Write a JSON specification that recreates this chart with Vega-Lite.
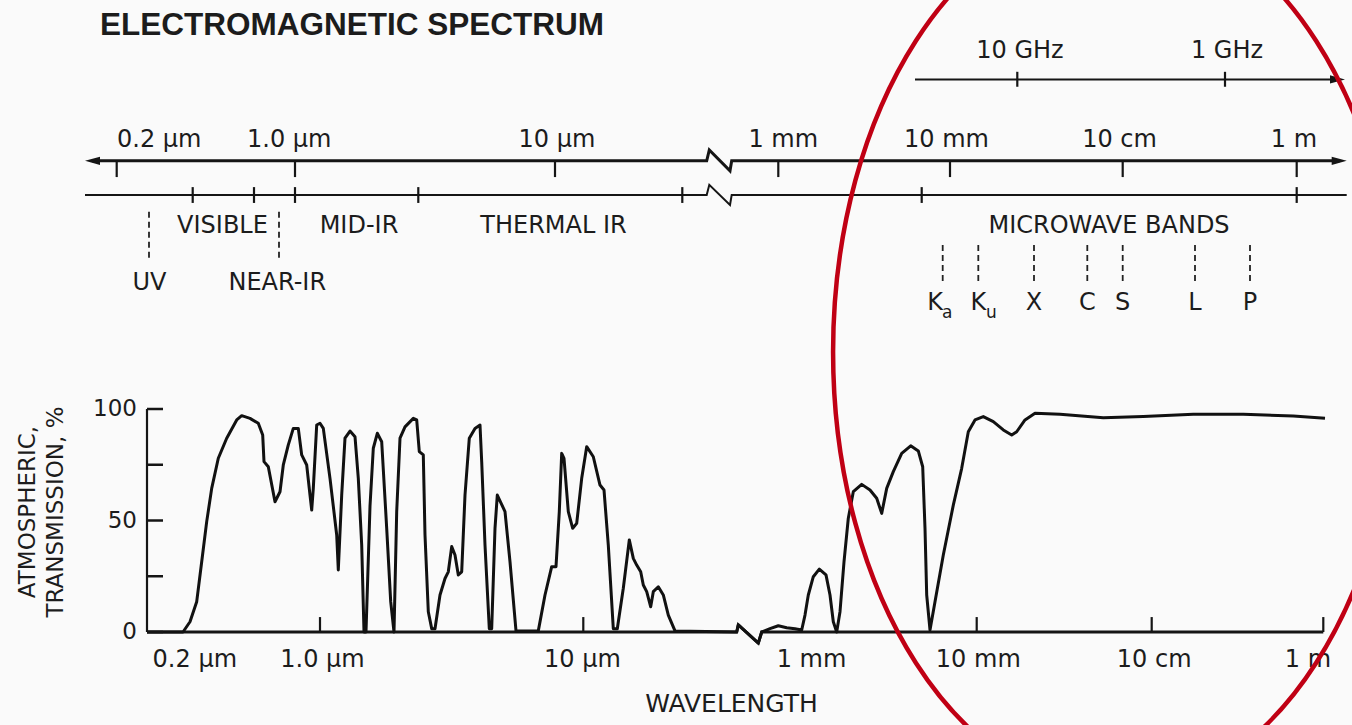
{
 "$schema": "https://vega.github.io/schema/vega-lite/v6.json",
 "width": 1352, "height": 725, "padding": 0, "autosize": {"type": "none"},
 "background": "#fafafa",
 "config": {"view": {"stroke": null}, "text": {"font": "DejaVu Sans", "color": "#1c1c1c"}},
 "datasets": {
  "curve": [
   {"pos":147,"val":0},{"pos":183,"val":0},{"pos":190,"val":4.6},{"pos":196.7,"val":13.6},{"pos":201.7,"val":31.5},{"pos":206.7,"val":49.5},{"pos":211.7,"val":64.4},{"pos":218.3,"val":77.9},{"pos":226.7,"val":86.9},{"pos":236.7,"val":95.1},{"pos":241.7,"val":97},{"pos":250,"val":95.8},{"pos":258.3,"val":93.6},{"pos":262.7,"val":88.3},{"pos":264,"val":76.4},{"pos":268.3,"val":74.1},{"pos":275,"val":58.4},{"pos":280,"val":62.9},{"pos":283.3,"val":74.9},{"pos":288.3,"val":83.9},{"pos":293.3,"val":91.3},{"pos":298.3,"val":91.3},{"pos":301.7,"val":79.4},{"pos":306.7,"val":74.9},{"pos":310,"val":61.4},{"pos":311.7,"val":54.7},{"pos":313.3,"val":64.4},{"pos":316.7,"val":92.8},{"pos":320,"val":93.6},{"pos":323.3,"val":91.3},{"pos":330,"val":68.9},{"pos":336.7,"val":43.5},{"pos":338.3,"val":27.8},{"pos":341.7,"val":61.4},{"pos":345,"val":86.9},{"pos":350,"val":90.1},{"pos":355,"val":87.6},{"pos":358.3,"val":68.9},{"pos":361.7,"val":39},{"pos":364,"val":0},{"pos":366,"val":0},{"pos":370,"val":56.4},{"pos":373.3,"val":82.4},{"pos":377.3,"val":89.1},{"pos":381.7,"val":85.3},{"pos":386.7,"val":46.5},{"pos":390.7,"val":13.6},{"pos":394,"val":0},{"pos":396.7,"val":54},{"pos":400,"val":86.9},{"pos":405,"val":92},{"pos":413.3,"val":95.8},{"pos":416.7,"val":95.1},{"pos":419.3,"val":80.9},{"pos":423.3,"val":79.4},{"pos":425,"val":43.5},{"pos":428.3,"val":9.1},{"pos":431.7,"val":1.5},{"pos":435,"val":1.5},{"pos":440,"val":16.6},{"pos":445,"val":24},{"pos":448.3,"val":27},{"pos":451.7,"val":38.3},{"pos":455,"val":34.5},{"pos":458.3,"val":25.6},{"pos":461.7,"val":27},{"pos":465,"val":61.4},{"pos":469.3,"val":86.9},{"pos":475,"val":91.3},{"pos":480,"val":92.8},{"pos":481.7,"val":76.4},{"pos":485,"val":39},{"pos":489.3,"val":1.5},{"pos":491.7,"val":1.5},{"pos":495,"val":46.5},{"pos":497.3,"val":61.4},{"pos":505,"val":54},{"pos":510,"val":31.5},{"pos":516,"val":0.5},{"pos":538.3,"val":0.5},{"pos":545,"val":16.6},{"pos":551.7,"val":29.3},{"pos":556,"val":29.3},{"pos":559.3,"val":54},{"pos":561.7,"val":80.1},{"pos":564,"val":77.9},{"pos":568.3,"val":54},{"pos":572.7,"val":46.5},{"pos":576.7,"val":48.7},{"pos":581.7,"val":68.9},{"pos":586.7,"val":83.1},{"pos":593.3,"val":78.6},{"pos":600,"val":65.9},{"pos":604,"val":63.7},{"pos":608.3,"val":39},{"pos":613.3,"val":1.5},{"pos":617.3,"val":1.5},{"pos":623.3,"val":19.6},{"pos":629.3,"val":41.3},{"pos":633.3,"val":33},{"pos":636.7,"val":30},{"pos":640.7,"val":27},{"pos":643.3,"val":21.1},{"pos":646.7,"val":18.1},{"pos":650.7,"val":11.3},{"pos":653.3,"val":18.1},{"pos":658.3,"val":20.3},{"pos":663.3,"val":16.6},{"pos":668.3,"val":7.6},{"pos":675,"val":0.5},{"pos":736.7,"val":0},{"pos":738.3,"val":3.2},{"pos":758.3,"val":-5},{"pos":761.7,"val":0},{"pos":763.3,"val":0.3},{"pos":770,"val":1.5},{"pos":778.3,"val":2.8},{"pos":786.7,"val":1.9},{"pos":795,"val":1.5},{"pos":801.7,"val":0.9},{"pos":805,"val":7.6},{"pos":808.3,"val":16.6},{"pos":813.3,"val":24.8},{"pos":819.3,"val":28.2},{"pos":826,"val":25.6},{"pos":830,"val":16.6},{"pos":833.3,"val":4.6},{"pos":836.7,"val":0},{"pos":840,"val":9.1},{"pos":844,"val":31.5},{"pos":848.3,"val":51},{"pos":853.3,"val":62.9},{"pos":861.7,"val":66.2},{"pos":870,"val":63.7},{"pos":876.7,"val":60},{"pos":881.7,"val":53.2},{"pos":886.7,"val":64.4},{"pos":893.3,"val":71.9},{"pos":901.7,"val":80.1},{"pos":910.7,"val":83.5},{"pos":918.3,"val":81.2},{"pos":922.7,"val":74.1},{"pos":925,"val":46.5},{"pos":926.7,"val":16.6},{"pos":930,"val":0.9},{"pos":935,"val":13.6},{"pos":943.3,"val":34.5},{"pos":953.3,"val":56.9},{"pos":961.7,"val":73.4},{"pos":968.3,"val":89.8},{"pos":975,"val":95.1},{"pos":983.3,"val":96.6},{"pos":993.3,"val":94.3},{"pos":1003.3,"val":90.6},{"pos":1011.7,"val":88.3},{"pos":1016.7,"val":89.8},{"pos":1025,"val":95.1},{"pos":1035,"val":98.1},{"pos":1060,"val":97.6},{"pos":1103.3,"val":96.1},{"pos":1143.3,"val":96.6},{"pos":1193.3,"val":97.6},{"pos":1243.3,"val":97.6},{"pos":1293.3,"val":96.9},{"pos":1325,"val":95.8}
  ],
  "lines": [
   {"g":"upper","pos":92,"val":211.3},{"g":"upper","pos":706.7,"val":211.3},{"g":"upper","pos":709.3,"val":216.2},{"g":"upper","pos":730,"val":206.8},{"g":"upper","pos":731.7,"val":211.3},{"g":"upper","pos":1340,"val":211.3},
   {"g":"base","pos":147,"val":0},{"g":"base","pos":736.7,"val":0},{"g":"base","pos":738.3,"val":3.2},{"g":"base","pos":758.3,"val":-5},{"g":"base","pos":761.7,"val":0},{"g":"base","pos":1323.3,"val":0},
   {"g":"lower","pos":85,"val":196},{"g":"lower","pos":706.7,"val":196},{"g":"lower","pos":709.3,"val":200.5},{"g":"lower","pos":730,"val":191.5},{"g":"lower","pos":731.7,"val":196},{"g":"lower","pos":1346.7,"val":196},
   {"g":"ghz","pos":915,"val":247.8},{"g":"ghz","pos":1338,"val":247.8}
  ],
  "ticks": [
   {"pos":116.7,"val":211.3,"val2":204},{"pos":295,"val":211.3,"val2":204},{"pos":555,"val":211.3,"val2":204},{"pos":778.3,"val":211.3,"val2":204},{"pos":950,"val":211.3,"val2":204},{"pos":1122.7,"val":211.3,"val2":204},{"pos":1296.7,"val":211.3,"val2":204},
   {"pos":192.7,"val":199.5,"val2":192.4},{"pos":254,"val":199.5,"val2":192.4},{"pos":295,"val":199.5,"val2":192.4},{"pos":418.3,"val":199.5,"val2":192.4},{"pos":682.3,"val":199.5,"val2":192.4},{"pos":921.7,"val":199.5,"val2":192.4},{"pos":1296.7,"val":199.5,"val2":192.4},
   {"pos":1017.3,"val":251.2,"val2":244.5},{"pos":1225,"val":251.2,"val2":244.5},
   {"pos":320,"val":0,"val2":6.7},{"pos":583.3,"val":0,"val2":6.7},{"pos":976.7,"val":0,"val2":6.7},{"pos":1151.7,"val":0,"val2":6.7},{"pos":1323.3,"val":0,"val2":6.7},
   {"pos":147,"val":0,"val2":100}
  ],
  "yticks": [
   {"pos":147,"pos2":163,"val":0},{"pos":147,"pos2":163,"val":25},{"pos":147,"pos2":163,"val":50},{"pos":147,"pos2":163,"val":75},{"pos":147,"pos2":163,"val":100}
  ],
  "dashes": [
   {"pos":149,"val":188.5,"val2":166.8},{"pos":279,"val":188.5,"val2":166.8},
   {"pos":942.7,"val":173.5,"val2":155.6},{"pos":978.3,"val":173.5,"val2":155.6},{"pos":1034,"val":173.5,"val2":155.6},{"pos":1087.3,"val":173.5,"val2":155.6},{"pos":1122.7,"val":173.5,"val2":155.6},{"pos":1195,"val":173.5,"val2":155.6},{"pos":1250,"val":173.5,"val2":155.6}
  ],
  "arrows": [
   {"dir":"left","pos":92.5,"val":211.3},{"dir":"right","pos":1339.2,"val":211.3},{"dir":"right","pos":1337.5,"val":247.8}
  ],
  "labels": [
   {"kind":"title","pos":100,"val":267.7,"label":"ELECTROMAGNETIC SPECTRUM"},
   {"kind":"scale","pos":1020,"val":257.3,"label":"10 GHz"},{"kind":"scale","pos":1227,"val":257.3,"label":"1 GHz"},
   {"kind":"scale","pos":159.2,"val":217.6,"label":"0.2 µm"},{"kind":"scale","pos":289.2,"val":217.6,"label":"1.0 µm"},{"kind":"scale","pos":557,"val":217.6,"label":"10 µm"},{"kind":"scale","pos":783.3,"val":217.6,"label":"1 mm"},{"kind":"scale","pos":946.5,"val":217.6,"label":"10 mm"},{"kind":"scale","pos":1119.5,"val":217.6,"label":"10 cm"},{"kind":"scale","pos":1294,"val":217.6,"label":"1 m"},
   {"kind":"scale","pos":222.5,"val":178.9,"label":"VISIBLE"},{"kind":"scale","pos":359,"val":178.9,"label":"MID-IR"},{"kind":"scale","pos":553.5,"val":178.9,"label":"THERMAL IR"},{"kind":"scale","pos":1109,"val":178.9,"label":"MICROWAVE BANDS"},
   {"kind":"scale","pos":149.5,"val":153.4,"label":"UV"},{"kind":"scale","pos":277.3,"val":153.4,"label":"NEAR-IR"},
   {"kind":"scale","pos":935,"val":144.4,"label":"K"},{"kind":"scale","pos":978.3,"val":144.4,"label":"K"},{"kind":"scale","pos":1034,"val":144.4,"label":"X"},{"kind":"scale","pos":1087.3,"val":144.4,"label":"C"},{"kind":"scale","pos":1122.7,"val":144.4,"label":"S"},{"kind":"scale","pos":1195,"val":144.4,"label":"L"},{"kind":"scale","pos":1250,"val":144.4,"label":"P"},
   {"kind":"sub","pos":942,"val":140.8,"label":"a"},{"kind":"sub","pos":986,"val":140.8,"label":"u"},
   {"kind":"scale","pos":194.8,"val":-15.6,"label":"0.2 µm"},{"kind":"scale","pos":322.5,"val":-15.6,"label":"1.0 µm"},{"kind":"scale","pos":582.5,"val":-15.6,"label":"10 µm"},{"kind":"scale","pos":811.5,"val":-15.6,"label":"1 mm"},{"kind":"scale","pos":978.3,"val":-15.6,"label":"10 mm"},{"kind":"scale","pos":1154.2,"val":-15.6,"label":"10 cm"},{"kind":"scale","pos":1308,"val":-15.6,"label":"1 m"},
   {"kind":"ylab","pos":137,"val":100,"label":"100"},{"kind":"ylab","pos":137,"val":50,"label":"50"},{"kind":"ylab","pos":137,"val":0,"label":"0"},
   {"kind":"xtitle","pos":731.5,"val":-35.7,"label":"WAVELENGTH"},
   {"kind":"ytitle","pos":28,"val":53.8,"label":"ATMOSPHERIC,"},{"kind":"ytitle","pos":56,"val":53.8,"label":"TRANSMISSION, %"}
  ],
  "ring": [{"pos":1116,"val":125.6}]
 },
 "encoding": {
  "x": {"field":"pos","type":"quantitative","scale":{"domain":[0,1352],"nice":false,"zero":false},"axis":null},
  "y": {"field":"val","type":"quantitative","scale":{"domain":[-41.7,283.4],"nice":false,"zero":false},"axis":null}
 },
 "layer": [
  {"data":{"name":"lines"},"transform":[{"filter":"datum.g === 'upper' || datum.g === 'base'"}],"mark":{"type":"line","stroke":"#151515","strokeWidth":3},"encoding":{"detail":{"field":"g"}}},
  {"data":{"name":"lines"},"transform":[{"filter":"datum.g === 'lower' || datum.g === 'ghz'"}],"mark":{"type":"line","stroke":"#151515","strokeWidth":2},"encoding":{"detail":{"field":"g"}}},
  {"data":{"name":"curve"},"mark":{"type":"line","stroke":"#111111","strokeWidth":3,"strokeJoin":"round"},"encoding":{}},
  {"data":{"name":"ticks"},"mark":{"type":"rule","stroke":"#151515","strokeWidth":2.2},"encoding":{"y2":{"field":"val2"}}},
  {"data":{"name":"yticks"},"mark":{"type":"rule","stroke":"#151515","strokeWidth":2.5},"encoding":{"x2":{"field":"pos2"}}},
  {"data":{"name":"dashes"},"mark":{"type":"rule","stroke":"#222222","strokeWidth":1.8,"strokeDash":[6,4]},"encoding":{"y2":{"field":"val2"}}},
  {"data":{"name":"arrows"},"transform":[{"filter":"datum.dir === 'left'"}],"mark":{"type":"point","shape":"M1,-0.55L-1,0L1,0.55Z","size":225,"filled":true,"color":"#151515","opacity":1}},
  {"data":{"name":"arrows"},"transform":[{"filter":"datum.dir === 'right'"}],"mark":{"type":"point","shape":"M-1,-0.55L1,0L-1,0.55Z","size":225,"filled":true,"color":"#151515","opacity":1}},
  {"data":{"name":"labels"},"transform":[{"filter":"datum.kind === 'title'"}],"mark":{"type":"text","font":"Liberation Sans","fontWeight":"bold","fontSize":31.5,"align":"left","baseline":"alphabetic"},"encoding":{"text":{"field":"label"}}},
  {"data":{"name":"labels"},"transform":[{"filter":"datum.kind === 'scale'"}],"mark":{"type":"text","fontSize":24,"align":"center","baseline":"alphabetic"},"encoding":{"text":{"field":"label"}}},
  {"data":{"name":"labels"},"transform":[{"filter":"datum.kind === 'sub'"}],"mark":{"type":"text","fontSize":17,"align":"left","baseline":"alphabetic"},"encoding":{"text":{"field":"label"}}},
  {"data":{"name":"labels"},"transform":[{"filter":"datum.kind === 'ylab'"}],"mark":{"type":"text","fontSize":23,"align":"right","baseline":"middle"},"encoding":{"text":{"field":"label"}}},
  {"data":{"name":"labels"},"transform":[{"filter":"datum.kind === 'xtitle'"}],"mark":{"type":"text","fontSize":25,"align":"center","baseline":"alphabetic"},"encoding":{"text":{"field":"label"}}},
  {"data":{"name":"labels"},"transform":[{"filter":"datum.kind === 'ytitle'"}],"mark":{"type":"text","fontSize":23,"angle":270,"align":"center","baseline":"middle"},"encoding":{"text":{"field":"label"}}},
  {"data":{"name":"ring"},"mark":{"type":"point","shape":"M0,-1C0.3552,-1 0.643,-0.5523 0.643,0C0.643,0.5523 0.3552,1 0,1C-0.3552,1 -0.643,0.5523 -0.643,0C-0.643,-0.5523 -0.3552,-1 0,-1Z","size":774400,"filled":false,"color":"#c00014","strokeWidth":4.5,"opacity":1}}
 ]
}
